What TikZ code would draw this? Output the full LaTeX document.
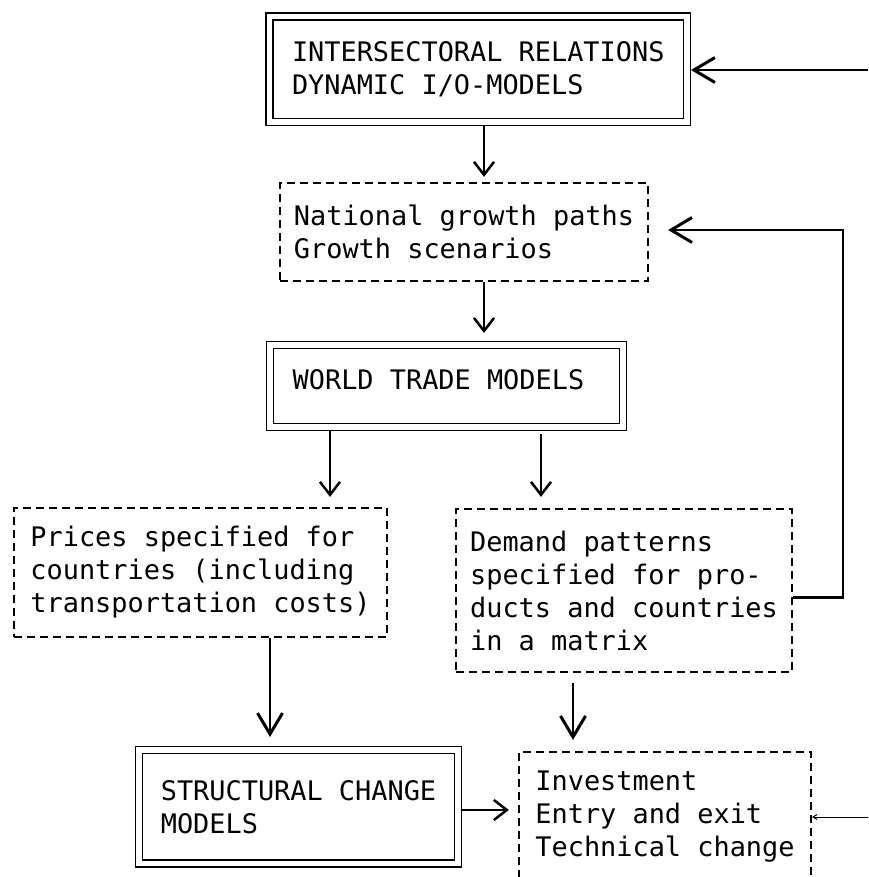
\documentclass[tikz,border=0pt]{standalone}
\usepackage{fontspec}
\newfontfamily\chartfont{DejaVu Sans Mono}
\usetikzlibrary{arrows.meta, positioning}
\tikzset{
  box/.style={align=left, font=\chartfont\fontsize{26.9}{33}\selectfont, inner sep=0pt},
  model/.style={box, draw, double, double distance=5.5pt, line width=1.5pt, outer sep=4pt},
  result/.style={box, draw, line width=2.2pt, dash pattern=on 8pt off 5pt},
  flow/.style={line width=2pt, -{Straight Barb[length=13pt, width=20pt, line width=2.5pt]}},
  bigflow/.style={line width=2.3pt, -{Straight Barb[length=21pt, width=25pt, line width=3pt]}},
  thinflow/.style={line width=1pt, -{Straight Barb[length=4pt, width=5pt]}},
}

\begin{document}
\begin{tikzpicture}[x=1pt, y=-1pt]
  \useasboundingbox (0,0) rectangle (868,877);

  % model boxes (double frame) and result boxes (dashed frame)
  \node[model, minimum width=417.5pt, minimum height=105.5pt] (relations) at (478.25,69.25) {INTERSECTORAL RELATIONS\\DYNAMIC I/O-MODELS};
  \node[result, minimum width=368pt, minimum height=98pt] (growth) at (464,232) {National growth paths\\Growth scenarios};
  \node[model, minimum width=353pt, minimum height=82pt, text width=307.6pt, text depth=12pt] (trade) at (446.5,386) {\spaceskip=0pt\relax WORLD TRADE MODELS};
  \node[result, minimum width=373pt, minimum height=129pt] (prices) at (200.5,572.5) {Prices specified for\\countries (including\\transportation costs)};
  \node[result, minimum width=336pt, minimum height=163pt] (demand) at (624,590.5) {Demand patterns\\specified for pro-\\ducts and countries\\in a matrix};
  \node[model, minimum width=319pt, minimum height=113.5pt] (structural) at (298.5,806.75) {STRUCTURAL CHANGE\\MODELS};
  \node[result, minimum width=292pt, minimum height=130pt] (invest) at (665,817) {Investment\\Entry and exit\\Technical change};

  % guide coordinates for the connectors
  \coordinate (in1) at (868,70);
  \coordinate (in2) at (868,817);
  \coordinate (rail) at (843,230);
  \coordinate (colA) at (484,0);
  \coordinate (colB) at (330,0);
  \coordinate (colC) at (541,0);
  \coordinate (colD) at (270,0);
  \coordinate (colE) at (573,0);
  \coordinate (rowA) at (0,810);
  \coordinate (rowB) at (0,597.5);

  \draw[bigflow] (in1) -- (relations.east |- in1);
  \draw[flow, shorten >=5pt] (relations.south -| colA) -- (growth.north -| colA);
  \draw[flow, shorten >=8pt] (growth.south -| colA) -- (trade.north -| colA);
  \draw[flow, shorten >=10pt] (trade.south -| colB) -- (prices.north -| colB);
  \draw[flow, shorten <=3pt, shorten >=11pt] (trade.south -| colC) -- (demand.north -| colC);
  \draw[bigflow, shorten >=9pt] (prices.south -| colD) -- (structural.north -| colD);
  \draw[bigflow, shorten <=10pt, shorten >=11pt] (demand.south -| colE) -- (invest.north -| colE);
  \draw[flow, shorten >=9pt] (structural.east |- rowA) -- (invest.west |- rowA);
  \draw[bigflow, shorten >=19pt] (demand.east |- rowB) -| (rail) -- (growth.east |- rail);
  \draw[thinflow] (in2) -- (invest.east |- in2);
\end{tikzpicture}
\end{document}
